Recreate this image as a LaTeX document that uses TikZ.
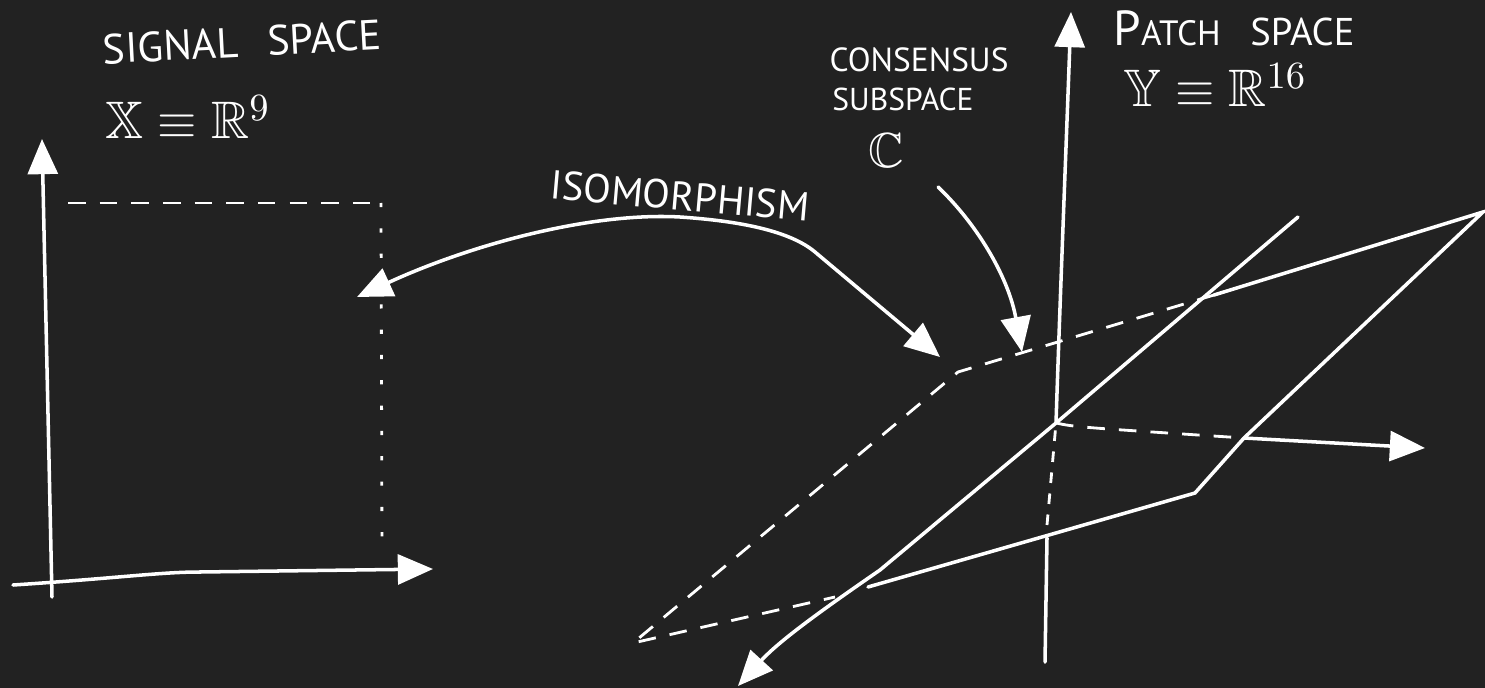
\documentclass[tikz,border=0pt]{standalone}
\usepackage{amssymb}
\usepackage{fontspec}
\setmainfont{PT Sans}
\usetikzlibrary{arrows.meta, positioning}
\definecolor{board}{HTML}{222222}

\begin{document}
\begin{tikzpicture}[
        x=0.01cm, y=-0.01cm,
        chalk/.style={draw=white, line width=1pt, line cap=round},
        axis/.style={chalk, -{Triangle[length=10pt, width=8.5pt]}},
        hidden/.style={draw=white, line width=0.8pt, dash pattern=on 5pt off 4pt},
        sparse/.style={draw=white, line width=0.8pt, dash pattern=on 1.2pt off 6pt},
        label/.style={text=white, inner sep=0pt, font=\fontsize{12}{14}\selectfont}
    ]
        \fill[board] (0,0) rectangle (1485,688);
        \useasboundingbox (0,0) rectangle (1485,688);

        % Signal space axes
        \coordinate (xo) at (52,597);
        \coordinate (xup) at (42,139);
        \coordinate (xleft) at (13,585);
        \coordinate (xright) at (433,569);
        \draw[axis] (xo) -- (xup);
        \draw[axis] (xleft) .. controls (120,578) and (160,572) .. (200,572) -- (xright);

        % Signal box
        \coordinate (sq1) at (68,203);
        \coordinate (sq2) at (381,203);
        \coordinate (sq3) at (382,552);
        \draw[hidden] (sq1) -- (sq2);
        \draw[sparse] (sq2) -- (sq3);

        % Labels for signal space
        \node[label, rotate=3] (sig) at (242,42) {SIGNAL\hspace{0.7em}SPACE};
        \node[label, font=\fontsize{15}{16}\selectfont] (X) at (188,117) {$\mathbb{X} \equiv \mathbb{R}^{9}$};

        % Patch space axes
        \coordinate (yo) at (1056,423);
        \coordinate (ytop) at (1071,12);
        \coordinate (ybot) at (1045,662);
        \coordinate (ymid) at (1047,538);
        \coordinate (ydeep) at (1298,217);
        \coordinate (ynear) at (738,686);
        \coordinate (yhit) at (1244,438);
        \coordinate (yright) at (1425,448);
        \draw[axis] (yo) .. controls (1060,300) and (1066,150) .. (ytop);
        \draw[chalk] (ybot) -- (ymid);
        \draw[hidden, dash pattern=on 3pt off 3pt] (1047,525) -- (yo);
        \draw[axis] (ydeep) -- (yo) -- (880,570) .. controls (825,608) and (780,640) .. (ynear);
        \draw[hidden] (yo) .. controls (1075,427) .. (yhit);
        \draw[axis] (yhit) -- (yright);

        % Consensus plane
        \coordinate (pa) at (958,372);
        \coordinate (pb) at (1483,212);
        \coordinate (pc) at (1195,493);
        \coordinate (pd) at (633,643);
        \coordinate (pab) at (1214,295);
        \coordinate (pcd) at (868,587);
        \coordinate (pdc) at (835,597);
        \draw[chalk] (pab) -- (pb) -- (yhit) -- (pc) -- (pcd);
        \draw[hidden] (pab) -- (pa) -- (pd) -- (pdc);

        % Isomorphism
        \coordinate (isoL) at (357,297);
        \coordinate (isoR) at (940,357);
        \draw[chalk, {Triangle[length=10pt, width=8.5pt]}-{Triangle[length=10pt, width=8.5pt]}] (isoL) .. controls (470,245) and (590,212) .. (680,217) .. controls (740,221) and (790,231) .. (815,252) -- (isoR);
        \node[label, rotate=-5, font=\fontsize{11.5}{14}\selectfont] (iso) at (680,196) {ISOMORPHISM};

        % Consensus subspace
        \coordinate (cstart) at (938,187);
        \coordinate (ctip) at (1022,352);
        \draw[axis] (cstart) .. controls (975,222) and (1008,275) .. (ctip);
        \node[label, font=\fontsize{9.5}{12}\selectfont] (cons) at (919,60) {CONSENSUS};
        \node[label, font=\fontsize{9}{12}\selectfont] (sub) at (903,99) {SUBSPACE};
        \node[label, font=\fontsize{14}{14}\selectfont] (C) at (886,151) {$\mathbb{C}$};

        % Labels for patch space
        \node[label] (patch) at (1234,28) {{\fontsize{14}{14}\selectfont P}{\fontsize{10}{12}\selectfont ATCH}\hspace{0.7em}{\fontsize{11}{12}\selectfont SPACE}};
        \node[label, font=\fontsize{15}{16}\selectfont] (Y) at (1215,85) {$\mathbb{Y} \equiv \mathbb{R}^{16}$};
    \end{tikzpicture}
\end{document}
